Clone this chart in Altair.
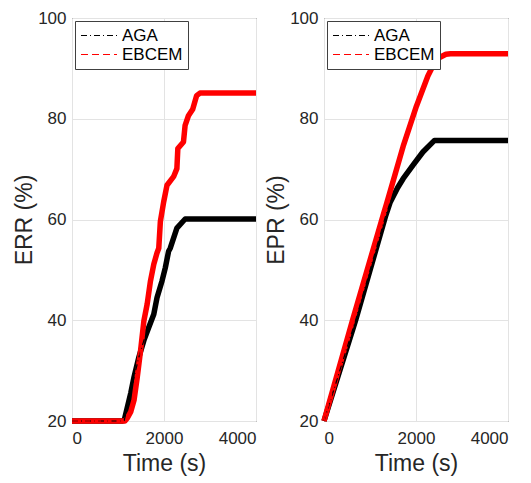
import altair as alt
import pandas as pd

series_names = ["AGA", "EBCEM"]
series_colors = ["#000000", "#FF0000"]

# Left panel: ERR (%)
err_aga_t = [0, 1100, 1135, 1276, 1348, 1455, 1563, 1670, 1778, 1849, 1957, 2028, 2100, 2136, 2280, 2420, 2460, 4000]
err_aga_v = [20, 20, 20.1, 25.5, 28.7, 32.7, 36, 38.6, 41.2, 44.5, 47.8, 50.4, 53.7, 54.3, 58.3, 59.7, 60.1, 60.1]
err_ebcem_t = [0, 1150, 1204, 1276, 1348, 1419, 1491, 1563, 1634, 1706, 1778, 1849, 1886, 1921, 1993, 2065, 2208, 2280, 2301, 2423, 2459, 2531, 2624, 2710, 2781, 4000]
err_ebcem_v = [20, 20, 20.6, 21.8, 24.1, 28.7, 34, 39.9, 43.2, 47.8, 51.1, 53.4, 54.3, 59.6, 63.5, 66.8, 68.5, 70.1, 74.1, 75.4, 78.7, 80.6, 81.9, 84.6, 85.1, 85.1]

# Right panel: EPR (%)
epr_aga_t = [0, 688, 1333, 1434, 1600, 1720, 1935, 2150, 2402, 4000]
epr_aga_v = [20, 40, 60.5, 63.3, 66.3, 68.1, 70.8, 73.4, 75.7, 75.7]
epr_ebcem_t = [0, 620, 1290, 1363, 1720, 2009, 2258, 2440, 2650, 2750, 4000]
epr_ebcem_v = [20, 40, 61, 63.2, 74.5, 82.5, 88.5, 91.8, 92.8, 92.9, 92.9]

x_ticks = [0, 2000, 4000]
y_ticks = [20, 40, 60, 80, 100]


def frame(t1, v1, t2, v2):
    rows = []
    for t, v in zip(t1, v1):
        rows.append({"t": t, "v": v, "series": "AGA"})
    for t, v in zip(t2, v2):
        rows.append({"t": t, "v": v, "series": "EBCEM"})
    return pd.DataFrame(rows)


FONT = "Liberation Sans"
TXT = "#262626"


def panel(df, ytitle):
    x = alt.X("t:Q", title="Time (s)",
              scale=alt.Scale(domain=[0, 4000], nice=False),
              axis=alt.Axis(values=x_ticks, format="d", labelFontSize=17,
                            titleFontSize=23, titleFontWeight="normal",
                            labelColor=TXT, titleColor=TXT,
                            ticks=False, tickSize=0, labelPadding=9, titlePadding=6,
                            gridColor="#e3e3e3", domain=False,
                            labelFont=FONT, titleFont=FONT))
    y = alt.Y("v:Q", title=ytitle,
              scale=alt.Scale(domain=[20, 100], nice=False),
              axis=alt.Axis(values=y_ticks, labelFontSize=17,
                            titleFontSize=23, titleFontWeight="normal",
                            labelColor=TXT, titleColor=TXT,
                            ticks=False, tickSize=0, labelPadding=6, titlePadding=1,
                            gridColor="#e3e3e3", domain=False,
                            labelFont=FONT, titleFont=FONT))
    color = alt.Color("series:N",
                      scale=alt.Scale(domain=series_names, range=series_colors),
                      legend=alt.Legend(title=None))
    base = alt.Chart(df).encode(x=x, y=y, color=color, order=alt.Order("t:Q"))
    thick = base.mark_line(strokeWidth=5.5, strokeJoin="round")
    thin = base.mark_line(strokeWidth=1.2).encode(
        strokeDash=alt.StrokeDash(
            "series:N",
            scale=alt.Scale(domain=series_names, range=[[6, 3, 1, 3], [7, 4]]),
            legend=alt.Legend(title=None),
        )
    )
    return alt.layer(thick, thin).properties(width=184, height=403)


left = panel(frame(err_aga_t, err_aga_v, err_ebcem_t, err_ebcem_v), "ERR (%)")
right = panel(frame(epr_aga_t, epr_aga_v, epr_ebcem_t, epr_ebcem_v), "EPR (%)")

chart = alt.hconcat(left, right, spacing=5).resolve_scale(
    color="independent", strokeDash="independent"
).resolve_legend(color="independent", strokeDash="independent").properties(
    padding={"left": 5, "top": 0, "right": 0, "bottom": 0}
).configure_view(
    stroke=TXT, strokeWidth=1
).configure_legend(
    orient="top-left", offset=3, padding=5,
    fillColor="white", strokeColor="#404040",
    symbolType="stroke", symbolSize=1296, symbolStrokeWidth=1.2,
    symbolStrokeColor="#000000",
    clipHeight=19, labelFontSize=17, labelFont=FONT, labelColor="#000000",
    labelOffset=4, rowPadding=0, cornerRadius=0
)

chart.save("out.html", embed_options={"renderer": "svg", "actions": False})
